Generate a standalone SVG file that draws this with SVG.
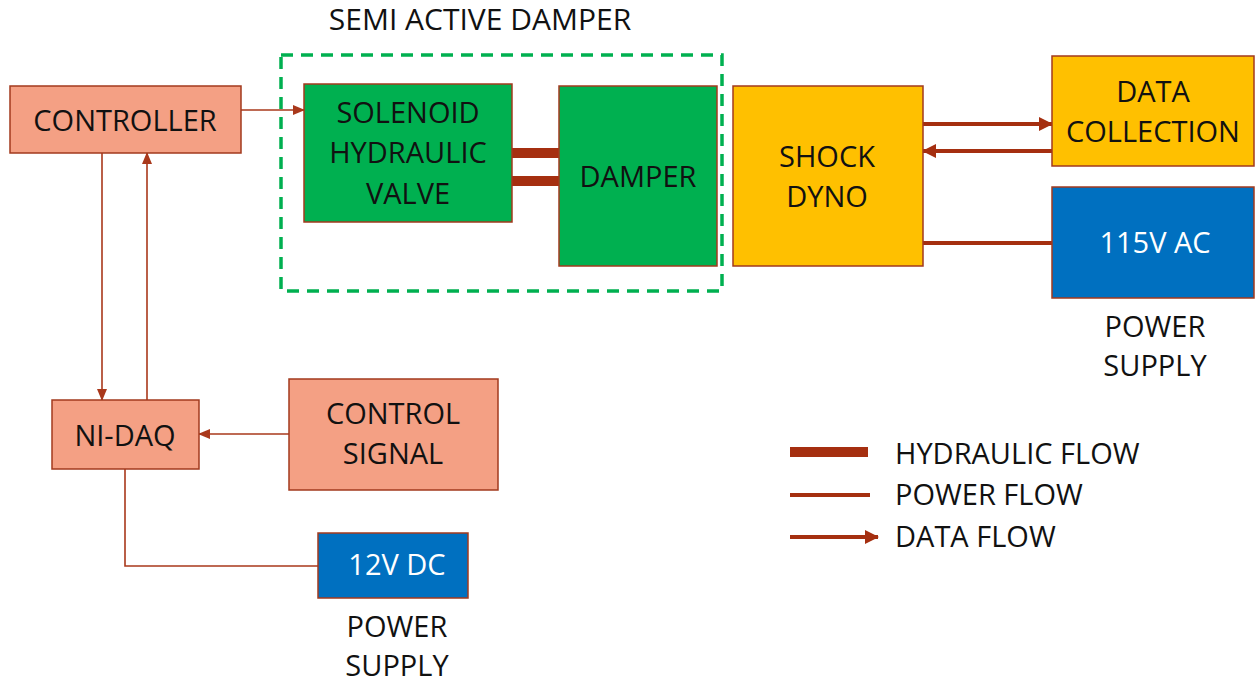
<svg xmlns="http://www.w3.org/2000/svg" width="1255" height="682" viewBox="0 0 1255 682">
<style>
text{font-family:"Open Sans","Noto Sans","DejaVu Sans",sans-serif;font-size:29px;fill:#111;text-anchor:middle}
.w{fill:#fff}
.lg{text-anchor:start}
.box{stroke:#A23A1E;stroke-width:1.5}
.sal{fill:#F4A084}
.grn{fill:#00B050}
.org{fill:#FFC000}
.blu{fill:#0070C0}
.thin{stroke:#A9381B;stroke-width:1.6;fill:none}
.med{stroke:#A52F10;stroke-width:4;fill:none}
.hyd{stroke:#A52F10;stroke-width:10;fill:none}
</style>
<defs>
<marker id="ah" markerUnits="userSpaceOnUse" markerWidth="12" markerHeight="10" refX="11" refY="5" orient="auto">
<path d="M0,0 L12,5 L0,10 Z" fill="#A9381B"/>
</marker>
<marker id="ahb" markerUnits="userSpaceOnUse" markerWidth="14" markerHeight="14" refX="13" refY="7" orient="auto">
<path d="M0,0 L14,7 L0,14 Z" fill="#A52F10"/>
</marker>
</defs>

<g id="semi-active-damper">
<rect x="281" y="55" width="441" height="236" fill="none" stroke="#00B050" stroke-width="3.5" stroke-dasharray="12,8"/>
<text x="480" y="30" style="font-size:30px">SEMI ACTIVE DAMPER</text>
</g>

<g id="connectors">
<line class="thin" x1="241" y1="110" x2="304" y2="110" marker-end="url(#ah)"/>
<line class="thin" x1="102" y1="153" x2="102" y2="400" marker-end="url(#ah)"/>
<line class="thin" x1="147" y1="400" x2="147" y2="153" marker-end="url(#ah)"/>
<line class="thin" x1="289" y1="434" x2="199" y2="434" marker-end="url(#ah)"/>
<polyline class="thin" points="125,469 125,566 318,566" stroke="#C0573A"/>
<line class="hyd" x1="512" y1="153" x2="559" y2="153"/>
<line class="hyd" x1="512" y1="181" x2="559" y2="181"/>
<line class="med" x1="923" y1="124" x2="1052" y2="124" marker-end="url(#ahb)"/>
<line class="med" x1="1052" y1="151" x2="923" y2="151" marker-end="url(#ahb)"/>
<line class="med" x1="923" y1="243" x2="1052" y2="243"/>
</g>

<g id="controller">
<rect class="box sal" x="10" y="86" width="231" height="67"/>
<text x="125" y="131">CONTROLLER</text>
</g>
<g id="solenoid-valve">
<rect class="box grn" x="304" y="84" width="208" height="138"/>
<text x="408" y="123">SOLENOID</text>
<text x="408" y="163">HYDRAULIC</text>
<text x="408" y="204">VALVE</text>
</g>
<g id="damper">
<rect class="box grn" x="559" y="86" width="158" height="180"/>
<text x="638" y="187">DAMPER</text>
</g>
<g id="shock-dyno">
<rect class="box org" x="733" y="86" width="190" height="180"/>
<text x="827" y="167">SHOCK</text>
<text x="827" y="207">DYNO</text>
</g>
<g id="data-collection">
<rect class="box org" x="1052" y="56" width="202" height="110"/>
<text x="1153" y="102">DATA</text>
<text x="1153" y="142">COLLECTION</text>
</g>
<g id="ac-supply">
<rect class="box blu" x="1052" y="187" width="202" height="111"/>
<text class="w" x="1155" y="253">115V AC</text>
<text x="1155" y="337">POWER</text>
<text x="1155" y="376">SUPPLY</text>
</g>
<g id="ni-daq">
<rect class="box sal" x="52" y="400" width="147" height="69"/>
<text x="125" y="446">NI-DAQ</text>
</g>
<g id="control-signal">
<rect class="box sal" x="289" y="379" width="209" height="111"/>
<text x="393" y="424">CONTROL</text>
<text x="393" y="464">SIGNAL</text>
</g>
<g id="dc-supply">
<rect class="box blu" x="318" y="533" width="150" height="65"/>
<text class="w" x="397" y="575">12V DC</text>
<text x="397" y="637">POWER</text>
<text x="397" y="676">SUPPLY</text>
</g>

<g id="legend">
<line class="hyd" x1="790" y1="452" x2="868" y2="452"/>
<line class="med" x1="790" y1="495" x2="870" y2="495"/>
<line class="med" x1="790" y1="537" x2="878" y2="537" marker-end="url(#ahb)"/>
<text class="lg" x="895" y="464">HYDRAULIC FLOW</text>
<text class="lg" x="895" y="505">POWER FLOW</text>
<text class="lg" x="895" y="547">DATA FLOW</text>
</g>
</svg>
